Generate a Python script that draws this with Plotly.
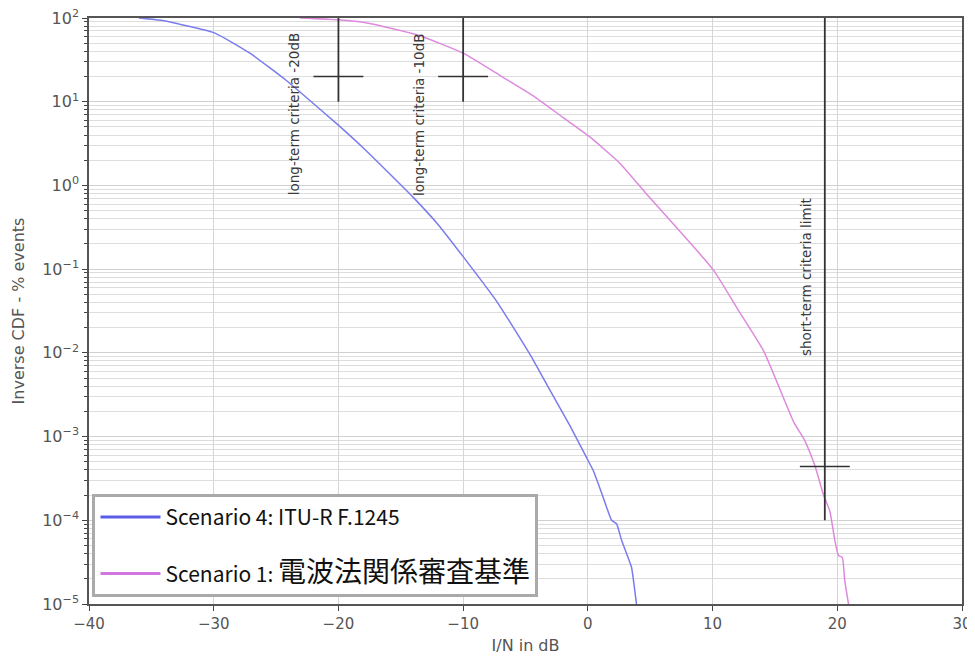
import math
import plotly.graph_objects as go

# ---- data ----
s4_x = [-36, -34, -31.9, -29.9, -27.1, -24.15, -22.5, -20.1, -18, -15.9, -14.0, -12, -10.0, -7.3,
        -4.63, -3.3, -1.44, -0.1, 0.44, 1.24, 1.91, 2.3, 2.7, 3.5, 3.66, 3.9]
s4_y = [100, 93, 79, 66, 38, 17.8, 11.0, 5.4, 2.8, 1.38, 0.72, 0.34, 0.141, 0.041,
        0.0095, 0.0042, 0.00135, 5.6e-4, 3.9e-4, 1.86e-4, 1.0e-4, 9.1e-5, 5.8e-5, 2.75e-5, 1.9e-5, 1.0e-5]

s1_x = [-23.1, -20, -17.7, -13.7, -10.0, -7, -4.35, -2, 0.06, 2.6, 4.7, 7.5, 10.06, 12.2, 14.1,
        16.5, 17.4, 18.2, 18.9, 19.4, 19.8, 20.1, 20.4, 20.6, 20.9]
s1_y = [100, 95, 87, 63, 38, 20.4, 11.7, 6.5, 3.9, 1.82, 0.79, 0.27, 0.098, 0.030, 0.0105,
        1.5e-3, 8.9e-4, 4.5e-4, 2.0e-4, 1.29e-4, 5.8e-5, 3.8e-5, 3.6e-5, 1.9e-5, 1.0e-5]

series_names = ["Scenario 4: ITU-R F.1245",
                "Scenario 1: <span style='font-size:28px'>電波法関係審査基準</span>"]

# criteria markers: x position, vertical extent, crossing level, half-width of cross bar
crit_x = [-20, -10, 19]
crit_top = [100, 100, 100]
crit_bottom = [10, 10, 1e-4]
crit_level = [20, 20, 4.4e-4]
crit_half = [2, 2, 2]
crit_labels = ["long-term criteria -20dB", "long-term criteria -10dB", "short-term criteria limit"]
label_x = [-23.6, -13.6, 17.55]
label_y = [7.0, 7.0, 0.08]   # % value at label centre

x_ticks = [-40, -30, -20, -10, 0, 10, 20, 30]
y_tickvals = [1e2, 1e1, 1e0, 1e-1, 1e-2, 1e-3, 1e-4, 1e-5]
y_ticktext = ["10<sup>2</sup>", "10<sup>1</sup>", "10<sup>0</sup>", "10<sup>−1</sup>", "10<sup>−2</sup>",
              "10<sup>−3</sup>", "10<sup>−4</sup>", "10<sup>−5</sup>"]

line_colors = ["#7a7cee", "#dd8ade"]
legend_colors = ["#5b5de8", "#d275e0"]

fig = go.Figure()

fig.add_trace(go.Scatter(x=s4_x, y=s4_y, mode="lines", name=series_names[0], showlegend=False,
                         line=dict(color=line_colors[0], width=1.5, shape="spline", smoothing=0.5)))
fig.add_trace(go.Scatter(x=s1_x, y=s1_y, mode="lines", name=series_names[1], showlegend=False,
                         line=dict(color=line_colors[1], width=1.5, shape="spline", smoothing=0.5)))

for i in range(len(crit_x)):
    fig.add_trace(go.Scatter(x=[crit_x[i], crit_x[i]], y=[crit_top[i], crit_bottom[i]], mode="lines",
                             line=dict(color="#333333", width=1.8), showlegend=False, hoverinfo="skip"))
    fig.add_trace(go.Scatter(x=[crit_x[i] - crit_half[i], crit_x[i] + crit_half[i]],
                             y=[crit_level[i], crit_level[i]], mode="lines",
                             line=dict(color="#333333", width=1.5), showlegend=False, hoverinfo="skip"))
    fig.add_annotation(x=label_x[i], y=math.log10(label_y[i]), yref="y", xref="x", text=crit_labels[i],
                       textangle=-90, showarrow=False,
                       font=dict(family="DejaVu Sans", size=13.5, color="#3a3a3a"))

# legend entries (thicker sample lines, as in the reference)
for i, grp in enumerate(["a", "b"]):
    fig.add_trace(go.Scatter(x=[None], y=[None], mode="lines", name=series_names[i], legendgroup=grp,
                             line=dict(color=legend_colors[i], width=3)))

# page body has an 8px margin, so the figure is made smaller and margins shifted
fig.update_layout(
    width=967, height=647,
    margin=dict(l=81, r=13, t=10, b=51),
    paper_bgcolor="white", plot_bgcolor="white",
    font=dict(family="DejaVu Sans", size=15, color="#555555"),
    legend=dict(x=0.004, y=0.012, xanchor="left", yanchor="bottom",
                bgcolor="white", bordercolor="#aaaaaa", borderwidth=3,
                font=dict(family="Noto Sans CJK JP", size=21, color="#111111"),
                tracegroupgap=26, itemwidth=60),
    showlegend=True,
)

fig.update_xaxes(range=[-40, 30], tickvals=x_ticks, ticks="outside", ticklen=5, tickcolor="#444",
                 tickfont=dict(size=15, color="#555555"), automargin=False, ticklabeloverflow="allow",
                 showgrid=True, gridcolor="#d5d5d5", gridwidth=1,
                 showline=True, linecolor="#555555", linewidth=1.5, mirror=True, zeroline=False,
                 title=dict(text="I/N in dB", font=dict(size=16, color="#555555"), standoff=15))
fig.update_yaxes(type="log", range=[-5, 2], tickvals=y_tickvals, ticktext=y_ticktext,
                 ticks="outside", ticklen=5, tickcolor="#444", automargin=False, ticklabeloverflow="allow",
                 tickfont=dict(size=16, color="#555555"),
                 showgrid=True, gridcolor="#d0d0d0", gridwidth=1,
                 minor=dict(showgrid=True, gridcolor="#dddddd", ticks="outside", ticklen=3,
                            tickcolor="#444", dtick="D1"),
                 showline=True, linecolor="#555555", linewidth=1.5, mirror=True, zeroline=False,
                 title=dict(text="Inverse CDF - % events", font=dict(size=16, color="#555555"), standoff=14))

fig.write_html("out.html")
